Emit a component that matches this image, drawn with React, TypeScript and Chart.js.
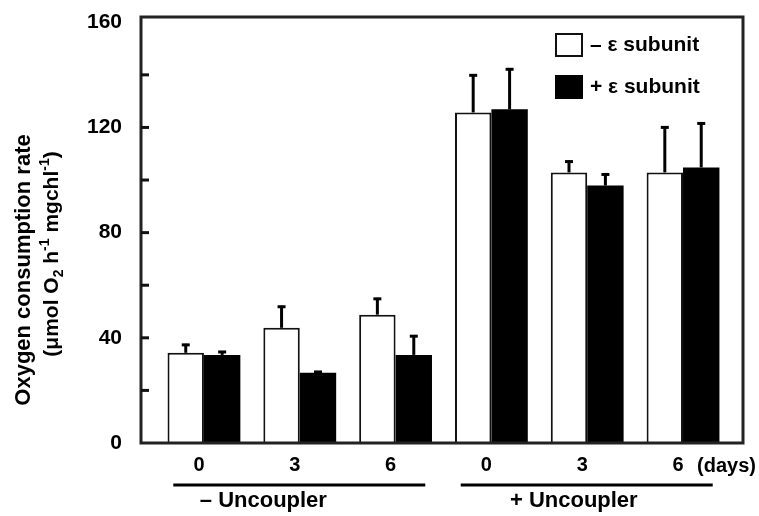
import React, { useEffect, useRef } from "react";
import { Chart, registerables } from "chart.js";

Chart.register(...registerables);

// ---- data ----
const dayLabels = ["0", "3", "6", "0", "3", "6"];
const groupPositions = [0, 1, 2, 3, 4, 5];
const seriesLabels = ["\u2013 \u03b5 subunit", "+ \u03b5 subunit"];
const minusSubunit = [34.3, 43.8, 48.8, 125.7, 102.9, 102.9];
const minusSubunitErr = [3.4, 8.4, 6.4, 14.5, 4.5, 17.5];
const plusSubunit = [33.5, 26.7, 33.5, 126.9, 97.9, 104.8];
const plusSubunitErr = [1.5, 0.7, 7.5, 15.6, 4.6, 17.1];
const yTickValues = [0, 20, 40, 60, 80, 100, 120, 140, 160];
const yLabelEvery = 40;
const uncouplerLabels = ["\u2013 Uncoupler", "+ Uncoupler"];
const uncouplerFrom = [0, 3];
const uncouplerTo = [2, 5];
const uncouplerTextPos = [0.62, 3.86];
const unitLabel = "(days)";
const yTitleLine1 = "Oxygen consumption rate";

const FONT = "'Liberation Sans', Arial, Helvetica, sans-serif";

const decorPlugin = {
  id: "decor",
  afterDatasetsDraw(chart: any) {
    const ctx = chart.ctx;
    const ys = chart.scales.y;
    chart.data.datasets.forEach((ds: any, di: number) => {
      const meta = chart.getDatasetMeta(di);
      meta.data.forEach((bar: any, i: number) => {
        const v = ds.data[i].y;
        const top = ys.getPixelForValue(v + ds.errors[i]);
        const x = bar.x;
        ctx.save();
        ctx.strokeStyle = "#000";
        ctx.lineWidth = 3;
        ctx.beginPath();
        ctx.moveTo(x, bar.y);
        ctx.lineTo(x, top);
        ctx.stroke();
        ctx.beginPath();
        ctx.moveTo(x - 4, top + 1);
        ctx.lineTo(x + 4, top + 1);
        ctx.stroke();
        ctx.restore();
      });
    });
  },
  afterDraw(chart: any) {
    const ctx = chart.ctx;
    const { left, right, top, bottom } = chart.chartArea;
    const xs = chart.scales.x;
    const ys = chart.scales.y;
    ctx.save();
    // frame
    ctx.strokeStyle = "#222";
    ctx.lineWidth = 3;
    ctx.strokeRect(left, top, right - left, bottom - top);
    // inward y ticks
    ctx.strokeStyle = "#111";
    ctx.lineWidth = 3;
    yTickValues.forEach((v) => {
      if (v === yTickValues[0] || v === yTickValues[yTickValues.length - 1]) return;
      const py = ys.getPixelForValue(v);
      ctx.beginPath();
      ctx.moveTo(left, py);
      ctx.lineTo(left + 8, py);
      ctx.stroke();
    });
    // (days)
    ctx.fillStyle = "#000";
    ctx.font = `bold 20px ${FONT}`;
    ctx.textAlign = "left";
    ctx.textBaseline = "middle";
    ctx.fillText(unitLabel, xs.getPixelForValue(groupPositions[groupPositions.length - 1]) + 14, bottom + 23);
    // uncoupler brackets
    ctx.font = `bold 22px ${FONT}`;
    uncouplerLabels.forEach((lab, k) => {
      const x1 = xs.getPixelForValue(uncouplerFrom[k] - 0.32);
      const x2 = xs.getPixelForValue(uncouplerTo[k] + 0.31);
      ctx.strokeStyle = "#000";
      ctx.lineWidth = 3;
      ctx.beginPath();
      ctx.moveTo(x1, bottom + 42);
      ctx.lineTo(x2, bottom + 42);
      ctx.stroke();
      ctx.textAlign = "center";
      ctx.fillText(lab, xs.getPixelForValue(uncouplerTextPos[k]), bottom + 58);
    });
    // legend
    const lx = right - 188;
    chart.data.datasets.forEach((ds: any, di: number) => {
      const by = top + 16 + di * 42;
      ctx.fillStyle = ds.backgroundColor;
      ctx.fillRect(lx, by, 28, 24);
      if (ds.borderWidth > 0) {
        ctx.strokeStyle = "#111";
        ctx.lineWidth = 2;
        ctx.strokeRect(lx + 1, by + 1, 26, 22);
      }
      ctx.fillStyle = "#000";
      ctx.font = `bold 21px ${FONT}`;
      ctx.textAlign = "left";
      ctx.textBaseline = "middle";
      ctx.fillText(ds.label, lx + 35, by + 12);
    });
    // y title
    ctx.save();
    ctx.translate(24, 270);
    ctx.rotate(-Math.PI / 2);
    ctx.font = `bold 22px ${FONT}`;
    ctx.textAlign = "center";
    ctx.textBaseline = "middle";
    ctx.fillStyle = "#000";
    ctx.fillText(yTitleLine1, 0, 0);
    ctx.restore();
    // second line with sub/superscripts
    const segs: [string, number][] = [
      ["(\u03bcmol O", 0],
      ["2", 1],
      [" h", 0],
      ["-1", -1],
      [" mgchl", 0],
      ["-1", -1],
      [")", 0],
    ];
    const big = `bold 21px ${FONT}`;
    const small = `bold 14px ${FONT}`;
    let total = 0;
    segs.forEach(([t, m]) => {
      ctx.font = m === 0 ? big : small;
      total += ctx.measureText(t).width;
    });
    ctx.save();
    ctx.translate(52, 254);
    ctx.rotate(-Math.PI / 2);
    ctx.textAlign = "left";
    ctx.textBaseline = "middle";
    let cx = -total / 2;
    segs.forEach(([t, m]) => {
      ctx.font = m === 0 ? big : small;
      ctx.fillText(t, cx, m === 0 ? 0 : m * 7);
      cx += ctx.measureText(t).width;
    });
    ctx.restore();
    ctx.restore();
  },
};

export default function App() {
  const ref = useRef<HTMLCanvasElement | null>(null);
  useEffect(() => {
    if (!ref.current) return;
    const chart = new Chart(ref.current, {
      type: "bar",
      data: {
        datasets: [
          {
            label: seriesLabels[0],
            data: groupPositions.map((x, i) => ({ x, y: minusSubunit[i] })),
            errors: minusSubunitErr,
            backgroundColor: "#ffffff",
            borderColor: "#111111",
            borderWidth: 2,
            categoryPercentage: 0.76,
            barPercentage: 1,
          } as any,
          {
            label: seriesLabels[1],
            data: groupPositions.map((x, i) => ({ x, y: plusSubunit[i] })),
            errors: plusSubunitErr,
            backgroundColor: "#000000",
            borderColor: "#000000",
            borderWidth: 0,
            categoryPercentage: 0.76,
            barPercentage: 1,
          } as any,
        ],
      },
      options: {
        animation: false,
        responsive: true,
        maintainAspectRatio: false,
        layout: { padding: { left: 0, right: 16, top: 17, bottom: 0 } },
        plugins: { legend: { display: false }, tooltip: { enabled: false } },
        scales: {
          x: {
            type: "linear",
            offset: false,
            min: -0.657,
            max: 5.626,
            afterBuildTicks: (s: any) => {
              s.ticks = groupPositions.map((v) => ({ value: v }));
            },
            afterFit: (s: any) => {
              s.height = 73;
              s.paddingLeft = 0;
              s.paddingRight = 0;
            },
            grid: { display: false, drawTicks: false, offset: false },
            border: { display: false },
            ticks: {
              autoSkip: false,
              maxRotation: 0,
              padding: 10,
              labelOffset: -5,
              color: "#000",
              font: { family: FONT, size: 20, weight: "bold" },
              callback: (v: any) => {
                const idx = groupPositions.indexOf(Number(v));
                return idx >= 0 ? dayLabels[idx] : "";
              },
            },
          },
          y: {
            min: 0,
            max: 162,
            afterBuildTicks: (s: any) => {
              s.ticks = yTickValues.map((v) => ({ value: v }));
            },
            afterFit: (s: any) => {
              s.width = 141;
              s.paddingTop = 0;
              s.paddingBottom = 0;
            },
            grid: { display: false, drawTicks: false },
            border: { display: false },
            ticks: {
              padding: 19,
              color: "#000",
              font: { family: FONT, size: 21, weight: "bold" },
              callback: (v: any) => (Number(v) % yLabelEvery === 0 ? String(v) : ""),
            },
          },
        },
      },
      plugins: [decorPlugin],
    } as any);
    return () => chart.destroy();
  }, []);
  return (
    <div style={{ position: "absolute", left: 0, top: 0, width: 759, height: 516, background: "#fff" }}>
      <canvas ref={ref} />
    </div>
  );
}
